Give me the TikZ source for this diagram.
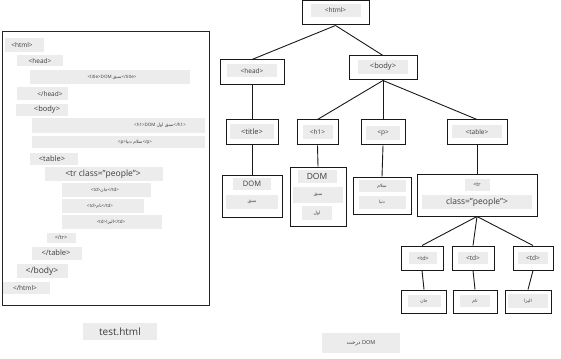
\documentclass[tikz,border=0pt]{standalone}
\usepackage{fontspec}
\setmainfont{Open Sans}
\newfontfamily\farsifont[Script=Arabic]{DejaVu Sans}
\TeXXeTstate=1
\newcommand\pers[1]{{\farsifont\beginR #1\endR}}
\definecolor{lblgray}{HTML}{ECECEC}
\definecolor{txtgray}{HTML}{3C3C3C}
\tikzset{
  panel/.style={draw=black!85, line width=0.9pt},
  cbg/.style={fill=lblgray},
  ctxt/.style={inner sep=0pt, text=txtgray},
  tbox/.style={draw=black!90, line width=1pt, fill=white, inner sep=0pt},
  lbl/.style={fill=lblgray, inner sep=0pt, text=txtgray},
  edge/.style={draw=black!90, line width=0.9pt},
  fa/.style={font=\fontsize{4.5}{5}\selectfont},
  fb/.style={font=\fontsize{5.5}{6}\selectfont},
  fc/.style={font=\fontsize{6.5}{7}\selectfont},
  fd/.style={font=\fontsize{7.5}{8}\selectfont},
  fe/.style={font=\fontsize{8.5}{9}\selectfont},
  ff/.style={font=\fontsize{10}{11}\selectfont}
}
\begin{document}
\begin{tikzpicture}[x=1pt,y=-1pt]
\useasboundingbox (0,0) rectangle (561,358);
% ---------- left panel: source code ----------
\draw[panel] (2,31) rectangle (209,305);
\fill[cbg] (5,38) rectangle (44,52);     \node[ctxt,fc] (c1) at (22,45) {<html>};
\fill[cbg] (17,55) rectangle (63,66);    \node[ctxt,fc] (c2) at (40,61) {<head>};
\fill[cbg] (30,70) rectangle (190,84);   \node[ctxt,fa] (c3) at (112,77) {<title>DOM \pers{سبق}</title>};
\fill[cbg] (17,87) rectangle (68,100);   \node[ctxt,fc] (c4) at (50,94) {</head>};
\fill[cbg] (16,104) rectangle (68,116);  \node[ctxt,fd] (c5) at (47,110) {<body>};
\fill[cbg] (32,118) rectangle (205,133); \node[ctxt,fa] (c6) at (160,125) {<h1>DOM \pers{سبق اول}</h1>};
\fill[cbg] (32,136) rectangle (205,148); \node[ctxt,fa] (c7) at (135,142) {<p>\pers{سلام دنیا}</p>};
\fill[cbg] (30,153) rectangle (78,165);  \node[ctxt,fd] (c8) at (52,159) {<table>};
\fill[cbg] (45,167) rectangle (163,181); \node[ctxt,fe] (c9) at (103,174) {<tr class="people">};
\fill[cbg] (62,183) rectangle (151,197); \node[ctxt,fa] (c10) at (105,190) {<td>\pers{جان}</td>};
\fill[cbg] (62,199) rectangle (144,213); \node[ctxt,fa] (c11) at (100,206) {<td>\pers{تام}</td>};
\fill[cbg] (62,215) rectangle (162,229); \node[ctxt,fa] (c12) at (111,222) {<td>\pers{الیزا}</td>};
\fill[cbg] (47,233) rectangle (76,243);  \node[ctxt,fb] (c13) at (61,238) {</tr>};
\fill[cbg] (32,247) rectangle (82,260);  \node[ctxt,fd] (c14) at (56,253) {</table>};
\fill[cbg] (17,264) rectangle (68,278);  \node[ctxt,fe] (c15) at (42,271) {</body>};
\fill[cbg] (3,282) rectangle (50,294);   \node[ctxt,fc] (c16) at (25,288) {</html>};
\fill[cbg] (83,323) rectangle (157,340); \node[ctxt,ff] (file) at (120,331.5) {test.html};
% ---------- right: DOM tree ----------
\node[tbox, minimum width=67pt, minimum height=24pt] (html) at (335.5,13) {};
\node[lbl,fc, minimum width=50pt, minimum height=13pt] at (335.5,10.5) {<html>};
\node[tbox, minimum width=64pt, minimum height=25pt] (head) at (252,72.5) {};
\node[lbl,fc, minimum width=50pt, minimum height=13pt] at (252,71) {<head>};
\node[tbox, minimum width=68pt, minimum height=24pt] (body) at (383,68) {};
\node[lbl,fd, minimum width=50pt, minimum height=14pt] at (383,67) {<body>};
\node[tbox, minimum width=52pt, minimum height=25pt] (title) at (252,132.5) {};
\node[lbl,fd, minimum width=44pt, minimum height=15pt] at (252,132) {<title>};
\node[tbox, minimum width=41pt, minimum height=25pt] (h1) at (317.5,132.5) {};
\node[lbl,fc, minimum width=30pt, minimum height=14pt] at (317.5,132) {<h1>};
\node[tbox, minimum width=44pt, minimum height=25pt] (p) at (383,132.5) {};
\node[lbl,fc, minimum width=34pt, minimum height=14pt] at (383,133) {<p>};
\node[tbox, minimum width=60pt, minimum height=25pt] (table) at (477,132.5) {};
\node[lbl,fc, minimum width=50pt, minimum height=13pt] at (477,132) {<table>};
% text nodes
\node[tbox, minimum width=60pt, minimum height=42pt] (ttext) at (252,196) {};
\node[lbl,fd, minimum width=38pt, minimum height=12pt] at (252,184) {DOM};
\node[lbl,fa, minimum width=52pt, minimum height=14pt] at (252,202) {\pers{سبق}};
\node[tbox, minimum width=56pt, minimum height=59pt] (h1text) at (318,196.5) {};
\node[lbl,fe, minimum width=39pt, minimum height=13pt] at (317,176) {DOM};
\node[lbl,fa, minimum width=50pt, minimum height=16pt] at (318,195) {\pers{سبق}};
\node[lbl,fa, minimum width=30pt, minimum height=14pt] at (317,213) {\pers{اول}};
\node[tbox, minimum width=58pt, minimum height=37pt] (ptext) at (382,195.5) {};
\node[lbl,fa, minimum width=47pt, minimum height=12pt] at (382,186) {\pers{سلام}};
\node[lbl,fa, minimum width=47pt, minimum height=13pt] at (382,202) {\pers{دنیا}};
\node[tbox, minimum width=120pt, minimum height=42pt] (tr) at (477,195) {};
\node[lbl,fb, minimum width=25pt, minimum height=12pt] at (477,185) {<tr};
\node[lbl,fe, minimum width=110pt, minimum height=14pt] at (477,202) {class="people">};
% td nodes
\node[tbox, minimum width=42pt, minimum height=24pt] (td1) at (422,258) {};
\node[lbl,fb, minimum width=28pt, minimum height=12pt] at (423,258) {<td>};
\node[tbox, minimum width=42pt, minimum height=24pt] (td2) at (473,258) {};
\node[lbl,fc, minimum width=30pt, minimum height=12pt] at (473,258) {<td>};
\node[tbox, minimum width=40pt, minimum height=24pt] (td3) at (533,258) {};
\node[lbl,fc, minimum width=30pt, minimum height=12pt] at (533,258) {<td>};
\node[tbox, minimum width=45pt, minimum height=23pt] (v1) at (424,301.5) {};
\node[lbl,fa, minimum width=33pt, minimum height=12pt] at (424,301) {\pers{جان}};
\node[tbox, minimum width=44pt, minimum height=23pt] (v2) at (475,301.5) {};
\node[lbl,fa, minimum width=30pt, minimum height=12pt] at (475,301) {\pers{تام}};
\node[tbox, minimum width=46pt, minimum height=23pt] (v3) at (528,301.5) {};
\node[lbl,fa, minimum width=40pt, minimum height=14pt] at (528,301) {\pers{الیزا}};
% connectors
\draw[edge] (html.south) -- (head.north);
\draw[edge] (html.south) -- (body.north);
\draw[edge] (head.south) -- (title.north);
\draw[edge] (body.south) -- (h1.north);
\draw[edge] (body.south) -- (p.north);
\draw[edge] (body.south) -- (table.north);
\draw[edge] (title.south) -- (ttext.north);
\draw[edge] (h1.south) -- (h1text.north);
\draw[edge] (p.south) -- (ptext.north);
\draw[edge] (table.south) -- (tr.north);
\draw[edge] (tr.south) -- (td1.north);
\draw[edge] (tr.south) -- (td2.north);
\draw[edge] (tr.south) -- (td3.north);
\draw[edge] (td1.south) -- (v1.north);
\draw[edge] (td2.south) -- (v2.north);
\draw[edge] (td3.south) -- (v3.north);
% caption
\fill[cbg] (322,333) rectangle (400,353);
\node[ctxt,fb] (cap) at (361,343) {\pers{درخت} DOM};
\end{tikzpicture}
\end{document}
